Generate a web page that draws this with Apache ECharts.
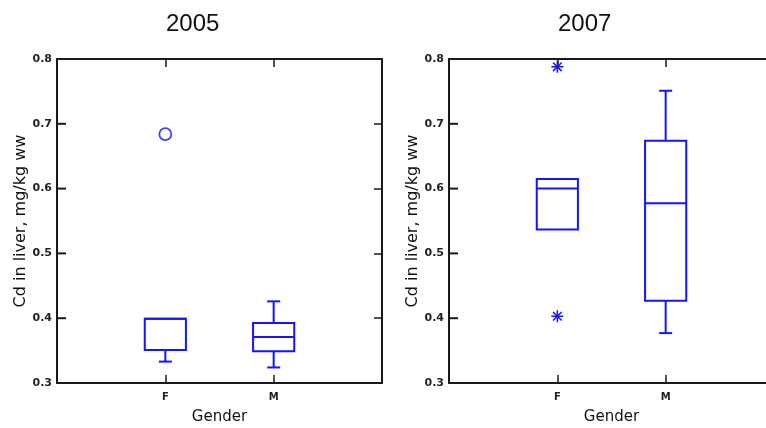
<!DOCTYPE html>
<html>
<head>
<meta charset="utf-8">
<script src="https://cdn.jsdelivr.net/npm/echarts@6/dist/echarts.min.js"></script>
<style>html,body{margin:0;padding:0;background:#fff;}#c{width:766px;height:428px;}</style>
</head>
<body>
<div id="c"></div>
<script>
// ---- data ----
const categories = ['F', 'M'];
const titles = ['2005', '2007'];
const yTicks = [0.3, 0.4, 0.5, 0.6, 0.7, 0.8];
// [lowerWhisker, q1, median, q3, upperWhisker]
const box2005F = [0.333, 0.351, 0.399, 0.399, 0.399];
const box2005M = [0.324, 0.349, 0.371, 0.3925, 0.426];
const box2007F = [0.537, 0.537, 0.600, 0.615, 0.615];
const box2007M = [0.377, 0.427, 0.5775, 0.674, 0.751];
const outliers2005 = [['F', 0.684]];
const outliers2007 = [['F', 0.788], ['F', 0.403]];

const BLUE = '#1414ff';
const AX = '#1a1a1a';
const FONT = 'DejaVu Sans';
const HIDDEN = 'rgba(0,0,0,0)';

function boxData(arr) {
  return arr.map((b, i) => [i + 1].concat(b));
}
function outData(arr) {
  return arr.map(o => [categories.indexOf(o[0]) + 1, o[1]]);
}

function renderBox(params, api) {
  const x = api.value(0);
  const lo = api.coord([x, api.value(1)]);
  const q1 = api.coord([x, api.value(2)]);
  const md = api.coord([x, api.value(3)]);
  const q3 = api.coord([x, api.value(4)]);
  const hi = api.coord([x, api.value(5)]);
  const bw = api.size([0.38, 0])[0] / 2;
  const cw = api.size([0.12, 0])[0] / 2;
  const cx = lo[0];
  const st = { stroke: BLUE, lineWidth: 2, fill: null };
  const ch = [];
  ch.push({ type: 'rect', shape: { x: cx - bw, y: q3[1], width: 2 * bw, height: q1[1] - q3[1] }, style: st });
  ch.push({ type: 'line', shape: { x1: cx - bw, y1: md[1], x2: cx + bw, y2: md[1] }, style: st });
  if (hi[1] < q3[1] - 0.5) {
    ch.push({ type: 'line', shape: { x1: cx, y1: q3[1], x2: cx, y2: hi[1] }, style: st });
    ch.push({ type: 'line', shape: { x1: cx - cw, y1: hi[1], x2: cx + cw, y2: hi[1] }, style: st });
  }
  if (lo[1] > q1[1] + 0.5) {
    ch.push({ type: 'line', shape: { x1: cx, y1: q1[1], x2: cx, y2: lo[1] }, style: st });
    ch.push({ type: 'line', shape: { x1: cx - cw, y1: lo[1], x2: cx + cw, y2: lo[1] }, style: st });
  }
  return { type: 'group', children: ch };
}

function renderStar(params, api) {
  const p = api.coord([api.value(0), api.value(1)]);
  const r = 6;
  const d = r * 0.72;
  const st = { stroke: BLUE, lineWidth: 1.5 };
  return {
    type: 'group',
    children: [
      { type: 'line', shape: { x1: p[0], y1: p[1] - r, x2: p[0], y2: p[1] + r }, style: st },
      { type: 'line', shape: { x1: p[0] - r, y1: p[1], x2: p[0] + r, y2: p[1] }, style: st },
      { type: 'line', shape: { x1: p[0] - d, y1: p[1] - d, x2: p[0] + d, y2: p[1] + d }, style: st },
      { type: 'line', shape: { x1: p[0] + d, y1: p[1] - d, x2: p[0] - d, y2: p[1] + d }, style: st }
    ]
  };
}

// inward tick marks on the left frame edge, placed through the y scale
function renderLeftTick(params, api) {
  const p = api.coord([api.value(0), api.value(1)]);
  return {
    type: 'rect',
    shape: { x: p[0], y: p[1] - 1, width: 9, height: 2 },
    style: { fill: AX },
    z2: 100
  };
}

const grids = [
  { left: 57, top: 59, width: 325, height: 324, outerBoundsMode: 'none', containLabel: false },
  { left: 449, top: 59, width: 325, height: 324, outerBoundsMode: 'none', containLabel: false }
];

const catFormatter = v => (v >= 1 && v <= categories.length && Number.isInteger(v)) ? categories[v - 1] : '';

function tickStyle() {
  return { show: true, inside: true, length: 8, lineStyle: { color: AX, width: 1.5 } };
}

const xAxes = [], yAxes = [];
[0, 1].forEach(g => {
  xAxes.push({
    type: 'value', gridIndex: g, min: 0, max: 3, interval: 1, position: 'bottom',
    axisLine: { show: true, onZero: false, lineStyle: { color: AX, width: 2 } },
    axisTick: tickStyle(), splitLine: { show: false },
    name: 'Gender', nameLocation: 'middle', nameGap: 27,
    nameTextStyle: { fontFamily: FONT, fontSize: 15, color: '#111' },
    axisLabel: { margin: 9, fontFamily: FONT, fontSize: 10, fontWeight: 'bold', color: '#222', formatter: catFormatter }
  });
  xAxes.push({
    type: 'value', gridIndex: g, min: 0, max: 3, interval: 1, position: 'top',
    axisLine: { show: true, onZero: false, lineStyle: { color: AX, width: 2 } },
    axisTick: tickStyle(), splitLine: { show: false },
    axisLabel: { show: true, color: HIDDEN, formatter: catFormatter }
  });
  yAxes.push({
    type: 'value', gridIndex: g, min: yTicks[0], max: yTicks[yTicks.length - 1], interval: 0.1, position: 'left',
    axisLine: { show: true, onZero: false, lineStyle: { color: AX, width: 2 } },
    axisTick: { show: false }, splitLine: { show: false },
    name: 'Cd in liver, mg/kg ww', nameLocation: 'middle', nameGap: 28, nameRotate: 90,
    nameTextStyle: { fontFamily: FONT, fontSize: 16, color: '#111' },
    axisLabel: { margin: 5, fontFamily: FONT, fontSize: 11, fontWeight: 'bold', color: '#222', formatter: v => v.toFixed(1) }
  });
  yAxes.push({
    type: 'value', gridIndex: g, min: yTicks[0], max: yTicks[yTicks.length - 1], interval: 0.1, position: 'right',
    axisLine: { show: true, onZero: false, lineStyle: { color: AX, width: 2 } },
    axisTick: tickStyle(), splitLine: { show: false },
    axisLabel: { show: true, color: HIDDEN, formatter: v => v.toFixed(1) }
  });
});

const tickData = yTicks.map(v => [0, v]);

const option = {
  animation: false,
  backgroundColor: '#fff',
  title: [
    { text: titles[0], left: 166, top: 12, padding: 0, textStyle: { fontFamily: 'Liberation Sans', fontSize: 24, fontWeight: 'normal', color: '#111' } },
    { text: titles[1], left: 558, top: 12, padding: 0, textStyle: { fontFamily: 'Liberation Sans', fontSize: 24, fontWeight: 'normal', color: '#111' } }
  ],
  grid: grids,
  xAxis: xAxes,
  yAxis: yAxes,
  series: [
    { type: 'custom', xAxisIndex: 0, yAxisIndex: 0, renderItem: renderBox, encode: { x: 0, y: [1, 2, 3, 4, 5] }, data: boxData([box2005F, box2005M]) },
    { type: 'scatter', xAxisIndex: 0, yAxisIndex: 0, symbol: 'circle', symbolSize: 12,
      itemStyle: { color: 'rgba(0,0,0,0)', borderColor: BLUE, borderWidth: 1.8 }, data: outData(outliers2005) },
    { type: 'custom', xAxisIndex: 2, yAxisIndex: 2, renderItem: renderBox, encode: { x: 0, y: [1, 2, 3, 4, 5] }, data: boxData([box2007F, box2007M]) },
    { type: 'custom', xAxisIndex: 2, yAxisIndex: 2, renderItem: renderStar, encode: { x: 0, y: 1 }, data: outData(outliers2007) },
    { type: 'custom', xAxisIndex: 0, yAxisIndex: 0, renderItem: renderLeftTick, encode: { x: 0, y: 1 }, clip: false, silent: true, z: 10, data: tickData },
    { type: 'custom', xAxisIndex: 2, yAxisIndex: 2, renderItem: renderLeftTick, encode: { x: 0, y: 1 }, clip: false, silent: true, z: 10, data: tickData }
  ]
};

const chart = echarts.init(document.getElementById('c'), null, { renderer: 'canvas' });
chart.setOption(option);
</script>
</body>
</html>
